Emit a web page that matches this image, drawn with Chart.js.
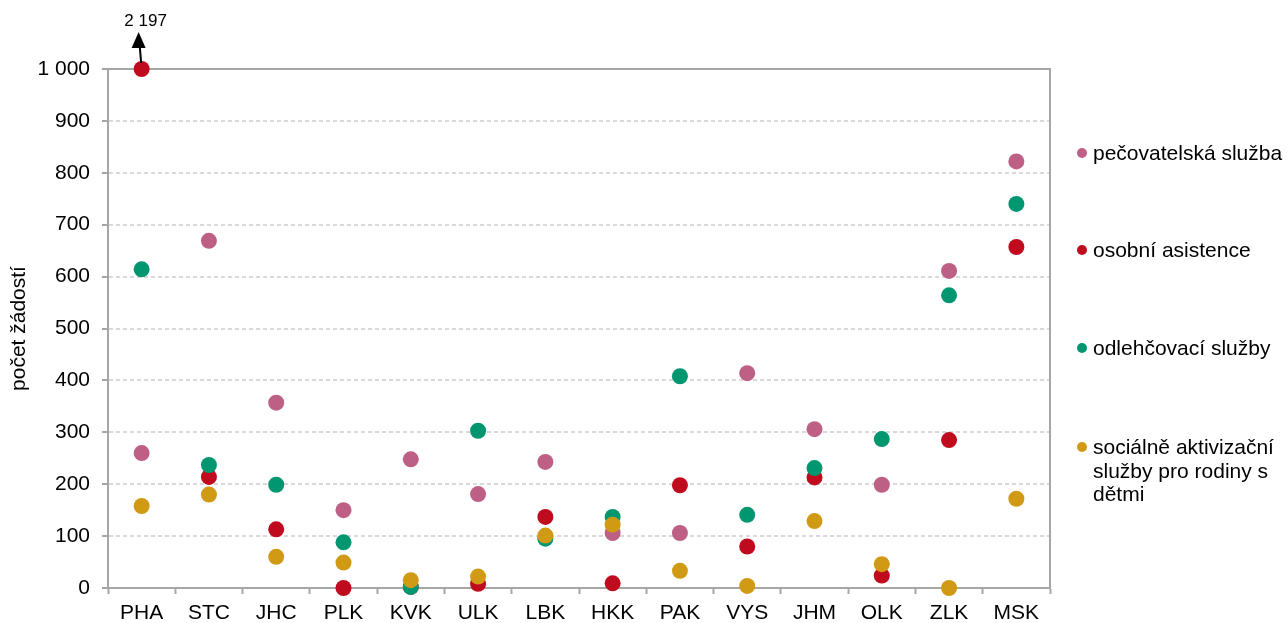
<!DOCTYPE html>
<html>
<head>
<meta charset="utf-8">
<script src="https://cdn.jsdelivr.net/npm/chart.js@4.4.1/dist/chart.umd.min.js"></script>
<style>
  html, body { margin: 0; padding: 0; background: #fff; }
  #wrap { position: relative; width: 1288px; height: 623px; }
  #legenda { position: absolute; left: 1077px; top: 0; font-family: "Liberation Sans", Arial, sans-serif; font-size: 21px; color: #000; }
  .item { position: absolute; left: 0; width: 205px; padding-left: 16px; line-height: 23.5px; }
  .item i { position: absolute; left: 0; top: 7px; width: 10px; height: 10px; border-radius: 50%; }
</style>
</head>
<body>
<div id="wrap">
  <canvas id="graf" width="1288" height="623"></canvas>
  <div id="legenda"></div>
</div>
<script>
const kraje = ["PHA", "STC", "JHC", "PLK", "KVK", "ULK", "LBK", "HKK", "PAK", "VYS", "JHM", "OLK", "ZLK", "MSK"];

const pecovatelska = [260, 669, 357, 150, 248, 181, 243, 106, 106, 414, 306, 199, 611, 822];
const osobni = [2197, 214, 113, 0, 2, 8, 137, 9, 198, 80, 213, 24, 285, 657];
const odlehcovaci = [614, 237, 199, 88, 2, 303, 95, 137, 408, 141, 231, 287, 564, 740];
const aktivizacni = [158, 180, 60, 49, 15, 22, 101, 122, 33, 4, 129, 46, 0, 172];

const nazvy = ["pečovatelská služba", "osobní asistence", "odlehčovací služby", "sociálně aktivizační služby pro rodiny s dětmi"];
const barvy = ["#be5f86", "#c00a1e", "#009670", "#d09a14"];

const yMax = 1000;
const yTicks = [0, 100, 200, 300, 400, 500, 600, 700, 800, 900, 1000];

const font = "'Liberation Sans', Arial, sans-serif";

function fmt(v) {
  return String(v).replace(/\B(?=(\d{3})+(?!\d))/g, " ");
}

const serie = [pecovatelska, osobni, odlehcovaci, aktivizacni];

// legenda vpravo
const legenda = document.getElementById("legenda");
const legTop = [141, 238, 336, 435];
nazvy.forEach((n, i) => {
  legenda.innerHTML += `<div class="item" style="top:${legTop[i]}px"><i style="background:${barvy[i]}"></i>${n}</div>`;
});

const ramecek = {
  id: "ramecek",
  beforeDatasetsDraw(chart) {
    const a = chart.chartArea;
    const c = chart.ctx;
    c.save();
    c.strokeStyle = "#a6a6a6";
    c.lineWidth = 2;
    c.beginPath();
    c.moveTo(a.left, a.top);
    c.lineTo(a.right, a.top);
    c.lineTo(a.right, a.bottom);
    c.stroke();
    c.restore();
  }
};

const sipka = {
  id: "sipka",
  afterDatasetsDraw(chart) {
    const c = chart.ctx;
    const xs = chart.scales.x;
    const ys = chart.scales.y;
    osobni.forEach((v, i) => {
      if (v <= yMax) return;
      const x = xs.getPixelForValue(i);
      const y = ys.getPixelForValue(yMax);
      c.save();
      c.strokeStyle = "#000";
      c.fillStyle = "#000";
      c.lineWidth = 2;
      c.beginPath();
      c.moveTo(x - 0.5, y - 6);
      c.lineTo(x - 2, y - 24);
      c.stroke();
      c.beginPath();
      c.moveTo(x - 3, y - 37);
      c.lineTo(x - 10, y - 21);
      c.lineTo(x + 4, y - 21);
      c.closePath();
      c.fill();
      c.font = "17px " + font;
      c.textAlign = "center";
      c.textBaseline = "middle";
      c.fillText(fmt(v), x + 4, y - 48);
      c.restore();
    });
  }
};

new Chart(document.getElementById("graf"), {
  type: "line",
  data: {
    labels: kraje,
    datasets: serie.map((s, i) => ({
      label: nazvy[i],
      data: s.map(v => Math.min(v, yMax)),
      showLine: false,
      backgroundColor: barvy[i],
      borderColor: barvy[i],
      pointBackgroundColor: barvy[i],
      pointBorderColor: barvy[i],
      pointRadius: 8,
      pointBorderWidth: 0,
      order: 4 - i,
      clip: false
    }))
  },
  options: {
    responsive: false,
    animation: false,
    layout: { padding: { top: 69, right: 238, bottom: 0, left: 0 } },
    plugins: {
      legend: { display: false },
      tooltip: { enabled: false }
    },
    scales: {
      x: {
        offset: true,
        afterFit(s) { s.height = 35; },
        grid: { offset: true, drawOnChartArea: false, tickLength: 6, tickColor: "#a6a6a6", tickWidth: 2 },
        border: { color: "#a6a6a6", width: 2 },
        ticks: { color: "#000", font: { family: font, size: 21 }, padding: 7, maxRotation: 0, autoSkip: false }
      },
      y: {
        min: 0,
        max: yMax,
        afterFit(s) { s.width = 108; },
        afterBuildTicks(s) { s.ticks = yTicks.map(v => ({ value: v })); },
        grid: { color: "#d9d9d9", lineWidth: 2, tickLength: 6, tickColor: "#a6a6a6", tickWidth: 2 },
        border: { color: "#a6a6a6", width: 2, dash: [4, 3] },
        ticks: { color: "#000", font: { family: font, size: 21 }, padding: 12, callback: v => fmt(v) },
        title: { display: true, text: "počet žádostí", color: "#000", font: { family: font, size: 21 }, padding: { top: 7, bottom: 0 } }
      }
    }
  },
  plugins: [ramecek, sipka]
});
</script>
</body>
</html>
